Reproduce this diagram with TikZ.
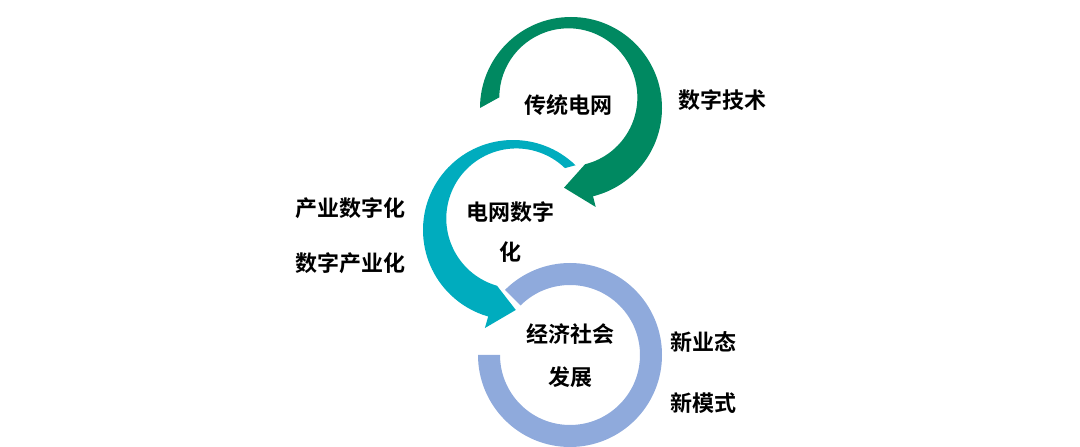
\documentclass[tikz,border=0pt]{standalone}
\usepackage{fontspec}
\setmainfont{Noto Sans CJK SC}[BoldFont={* Bold}]
\usetikzlibrary{calc}
\definecolor{gridgreen}{RGB}{0,137,97}
\definecolor{digiteal}{RGB}{0,172,190}
\definecolor{socblue}{RGB}{143,170,220}
\tikzset{lbl/.style={font=\bfseries\fontsize{22pt}{26pt}\selectfont, text=black, inner sep=0pt}}
\begin{document}
\begin{tikzpicture}[x=1pt,y=1pt]
\useasboundingbox (0,0) rectangle (1080,447);

% green arrow
\fill [gridgreen] (571,339) ++(180:91) arc [start angle=180, end angle=-76, radius=91]
  -- ($(571,339)+(-76:102)$) -- ($(571,339)+(-95:80)$) -- ($(571,339)+(-76:58)$)
  arc [start angle=-76, end angle=180, radius=69] -- cycle ;

% teal arrow
\fill [digiteal] (513,217) ++(46:90) arc [start angle=46, end angle=254, radius=90]
  -- ($(513,217)+(254:102)$) -- ($(513,217)+(272:80)$) -- ($(513,217)+(254:58)$)
  arc [start angle=254, end angle=46, radius=70] -- cycle ;

% blue ring
\fill [socblue] (570,92) ++(-180:92) arc [start angle=-180, end angle=135, radius=92]
  -- ($(570,92)+(135:70)$) arc [start angle=135, end angle=-180, radius=70] -- cycle ;

\node [lbl] (grid) at (568,342) {传统电网} ;
\node [lbl] (tech) at (722,347) {数字技术} ;
\node [lbl] (digi1) at (510,235) {电网数字} ;
\node [lbl] (digi2) at (510,195) {化} ;
\node [lbl] (ind1) at (350,239) {产业数字化} ;
\node [lbl] (ind2) at (350,184) {数字产业化} ;
\node [lbl] (econ1) at (570,113) {经济社会} ;
\node [lbl] (econ2) at (570,70) {发展} ;
\node [lbl] (new1) at (703,105) {新业态} ;
\node [lbl] (new2) at (703,44) {新模式} ;

\end{tikzpicture}
\end{document}
